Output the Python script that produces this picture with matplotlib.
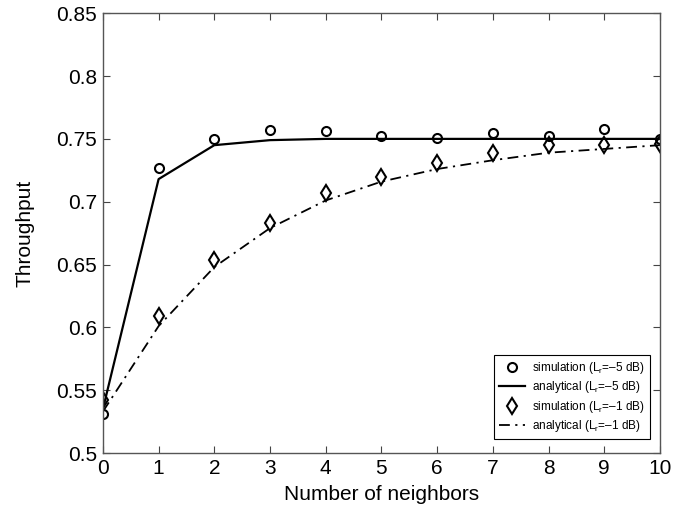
import numpy as np
import matplotlib
matplotlib.use("Agg")
import matplotlib.pyplot as plt

plt.rcParams["font.family"] = ["Liberation Sans", "DejaVu Sans"]
plt.rcParams["mathtext.fontset"] = "custom"
plt.rcParams["mathtext.rm"] = "Liberation Sans"
plt.rcParams["mathtext.it"] = "Liberation Sans"

neighbors = np.arange(0, 11)
sim_m5 = [0.531, 0.727, 0.750, 0.757, 0.756, 0.752, 0.751, 0.755, 0.752, 0.758, 0.750]
ana_m5 = [0.535, 0.718, 0.745, 0.749, 0.750, 0.750, 0.750, 0.750, 0.750, 0.750, 0.750]
sim_m1 = [0.542, 0.609, 0.654, 0.683, 0.707, 0.720, 0.731, 0.739, 0.745, 0.745, 0.746]
ana_m1 = [0.533, 0.601, 0.648, 0.679, 0.701, 0.716, 0.726, 0.733, 0.739, 0.742, 0.745]

fig = plt.figure(figsize=(6.86, 5.09), dpi=100)
ax = fig.add_axes([0.150, 0.110, 0.812, 0.864])

ax.plot(neighbors, sim_m5, "o", mfc="none", mec="k", ms=6.5, mew=1.5,
        label="simulation (L$_{\\mathrm{r}}$=\u20135 dB)")
ax.plot(neighbors, ana_m5, "-", color="k", lw=1.6,
        label="analytical (L$_{\\mathrm{r}}$=\u20135 dB)")
ax.plot(neighbors, sim_m1, "d", mfc="none", mec="k", ms=8, mew=1.5,
        label="simulation (L$_{\\mathrm{r}}$=\u20131 dB)")
ax.plot(neighbors, ana_m1, color="k", lw=1.3, dashes=(6, 3, 1.2, 3),
        label="analytical (L$_{\\mathrm{r}}$=\u20131 dB)")

ax.set_xlim(0, 10)
ax.set_ylim(0.5, 0.85)
ax.set_xticks(range(0, 11))
ax.set_yticks([0.5, 0.55, 0.6, 0.65, 0.7, 0.75, 0.8, 0.85])
ax.set_yticklabels(["0.5", "0.55", "0.6", "0.65", "0.7", "0.75", "0.8", "0.85"])
ax.tick_params(direction="in", top=True, right=True, labelsize=15, length=5,
               color="#444", pad=4)
for s in ax.spines.values():
    s.set_color("#555")
    s.set_linewidth(1.0)

ax.set_xlabel("Number of neighbors", fontsize=15, labelpad=5)
ax.set_ylabel("Throughput", fontsize=15, labelpad=16)

leg = ax.legend(loc="lower right", fontsize=8.5, frameon=True, fancybox=False,
                edgecolor="k", framealpha=1, borderpad=0.4, handlelength=2.2,
                labelspacing=0.3, handletextpad=0.6, bbox_to_anchor=(0.992, 0.018))
leg.get_frame().set_linewidth(0.8)

fig.savefig("out.png", dpi=100)
